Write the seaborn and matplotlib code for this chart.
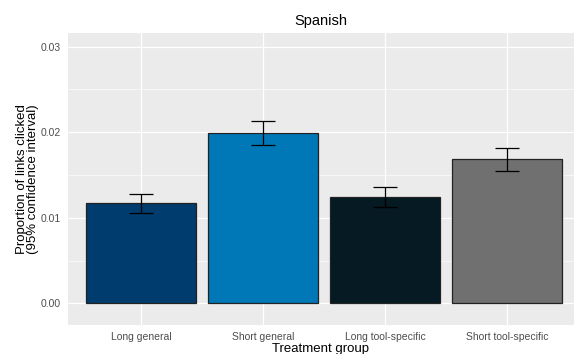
import matplotlib
matplotlib.use("Agg")
import matplotlib.pyplot as plt
import seaborn as sns
import pandas as pd
import numpy as np

categories = ["Long general", "Short general", "Long tool-specific", "Short tool-specific"]
proportions = [0.01168, 0.01993, 0.01245, 0.01682]
ci_low = [0.01058, 0.01846, 0.01125, 0.01549]
ci_high = [0.01280, 0.02133, 0.01355, 0.01818]
colors = ["#003C6E", "#0077B6", "#051A22", "#707070"]
yticks = [0.00, 0.01, 0.02, 0.03]
ytick_labels = ["0.00", "0.01", "0.02", "0.03"]

df = pd.DataFrame({"group": categories, "prop": proportions})

sns.set_theme(style="darkgrid")
plt.rcParams["font.family"] = ["Liberation Sans", "DejaVu Sans"]

fig = plt.figure(figsize=(5.74, 3.54), dpi=100)
ax = fig.add_axes([68 / 574, 1 - 325 / 354, (574 - 68) / 574, (325 - 33) / 354])
ax.set_facecolor("#EBEBEB")

sns.barplot(data=df, x="group", y="prop", hue="group", palette=colors,
            order=categories, hue_order=categories, width=0.9, saturation=1,
            edgecolor="#222222", linewidth=0.9, legend=False, ax=ax, errorbar=None)

xs = np.arange(len(categories))
props = np.array(proportions)
yerr = np.vstack([props - np.array(ci_low), np.array(ci_high) - props])
ax.errorbar(xs, props, yerr=yerr, fmt="none", ecolor="black", elinewidth=0.9,
            capsize=8.5, capthick=0.9, zorder=5)

ax.set_xlim(-0.6, 3.55)
ax.set_ylim(-0.00254, 0.0316)
ax.set_yticks(yticks)
ax.set_yticklabels(ytick_labels)
ax.set_yticks([0.005, 0.015, 0.025], minor=True)

ax.grid(True, which="major", color="white", linewidth=0.9)
ax.grid(True, which="minor", axis="y", color="white", linewidth=0.45)
ax.set_axisbelow(True)
for s in ax.spines.values():
    s.set_visible(False)

ax.tick_params(axis="both", which="major", length=3, width=0.8, color="#333333",
               labelsize=7.5, labelcolor="#4D4D4D", pad=2)
ax.tick_params(axis="both", which="minor", length=0)

ax.set_xlabel("Treatment group", fontsize=9.5, color="black", labelpad=0.5)
ax.set_ylabel("Proportion of links clicked\n(95% confidence interval)", fontsize=9.5,
              color="black", labelpad=1, linespacing=0.95)
ax.set_title("Spanish", fontsize=10.5, color="black", pad=6)

fig.savefig("out.png", dpi=100)
